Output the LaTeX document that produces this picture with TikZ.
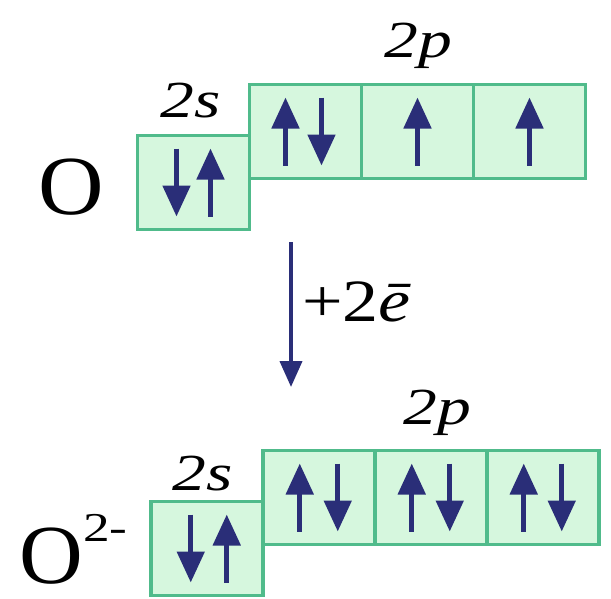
\documentclass[tikz,border=0pt]{standalone}
\usepackage{fontspec}
\setmainfont{Liberation Serif}
\usetikzlibrary{arrows.meta,calc}
\definecolor{boxfill}{HTML}{D6F7DE}
\definecolor{boxline}{HTML}{50BB8B}
\definecolor{navy}{HTML}{2A2E78}
\newcommand{\spinarrow}[3]{% node, dx, direction (1 = up, -1 = down)
  \draw[spin] ($(#1)+(#2,34*#3)$) -- ($(#1)+(#2,-34*#3)$);}
\begin{document}
\begin{tikzpicture}[x=1pt,y=-1pt,
  orb/.style={draw=boxline, fill=boxfill, line width=3.8pt, minimum width=112pt,
    minimum height=94pt, inner sep=0pt, outer sep=0pt},
  spin/.style={draw=navy, line width=5pt, -{Triangle[width=27pt,length=31pt]}},
  mainarrow/.style={draw=navy, line width=4pt, -{Triangle[width=22pt,length=26pt]}},
  lbl/.style={inner sep=0pt, anchor=base, font=\fontsize{52}{52}\selectfont\itshape},
  atom/.style={inner sep=0pt, anchor=base, font=\fontsize{84}{84}\selectfont}]
\fill[white] (0,0) rectangle (611,598);
\useasboundingbox (0,0) rectangle (611,598);

% ---- O atom ----
\node[atom] (O1) at (71.5,214) {\scalebox{1.08}[1]{O}};
\node[orb] (s1) at (193.5,182.5) {};
\node[orb] (p1a) at (305.5,131.5) {};
\node[orb] (p1b) at (417.5,131.5) {};
\node[orb] (p1c) at (529.5,131.5) {};
\node[lbl] (l1s) at (191,117) {\scalebox{1.3}[1]{2s}};
\node[lbl] (l1p) at (418.5,57) {\scalebox{1.3}[1]{2p}};

\spinarrow{s1}{-17}{-1}
\spinarrow{s1}{17}{1}
\spinarrow{p1a}{-20}{1}
\spinarrow{p1a}{16}{-1}
\spinarrow{p1b}{0}{1}
\spinarrow{p1c}{0}{1}

% ---- transition ----
\coordinate (arrS) at (291,242);
\coordinate (arrE) at (291,387);
\draw[mainarrow] (arrS) -- (arrE);
\node[inner sep=0pt, anchor=base west, font=\fontsize{60}{60}\selectfont] (plus) at (302,321)
  {\scalebox{1.2}[1]{+2\textit{ē}}};

% ---- O2- ion ----
\node[atom] (O2) at (51,583) {\scalebox{1.05}[1]{O}};
\node[inner sep=0pt, anchor=base west, font=\fontsize{41}{41}\selectfont] (chg) at (83,541)
  {\scalebox{1.3}[1]{2-}};
\node[orb] (s2) at (206.75,548.5) {};
\node[orb] (p2a) at (318.75,497.5) {};
\node[orb] (p2b) at (430.75,497.5) {};
\node[orb] (p2c) at (542.75,497.5) {};
\node[lbl] (l2s) at (202.5,490) {\scalebox{1.3}[1]{2s}};
\node[lbl] (l2p) at (437,424) {\scalebox{1.3}[1]{2p}};

\spinarrow{s2}{-16}{-1}
\spinarrow{s2}{20}{1}
\spinarrow{p2a}{-19}{1}
\spinarrow{p2a}{19}{-1}
\spinarrow{p2b}{-19}{1}
\spinarrow{p2b}{19}{-1}
\spinarrow{p2c}{-19}{1}
\spinarrow{p2c}{19}{-1}
\end{tikzpicture}
\end{document}
